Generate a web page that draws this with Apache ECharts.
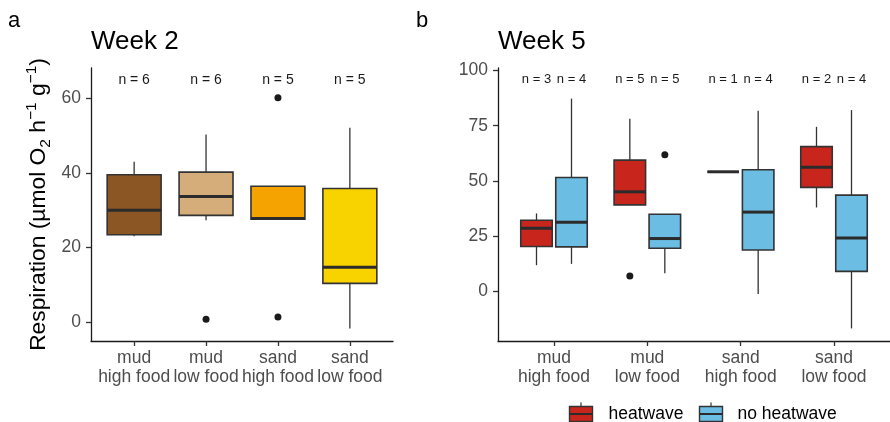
<!DOCTYPE html>
<html>
<head>
<meta charset="utf-8">
<script src="https://cdn.jsdelivr.net/npm/echarts@6/dist/echarts.min.js"></script>
<style>
  html, body { margin: 0; padding: 0; background: #ffffff; }
  #chart { width: 890px; height: 422px; }
</style>
</head>
<body>
<div id="chart"></div>
<script>
// Treatment groups on the x axis
const categories = ['mud\nhigh food', 'mud\nlow food', 'sand\nhigh food', 'sand\nlow food'];

// Box summaries: [lower whisker, Q1, median, Q3, upper whisker]
const week2Boxes = [
  [23.0, 23.4, 30.0, 39.5, 43.0],
  [27.3, 28.6, 33.7, 40.2, 50.3],
  [27.6, 27.6, 27.8, 36.4, 36.4],
  [-1.7, 10.4, 14.7, 35.8, 52.1]
];
// Outliers: [group number, value]
const week2Outliers = [[2, 0.8], [3, 60.1], [3, 1.4]];
const week2N = [6, 6, 5, 5];
const week2Fill = ['#8C5524', '#D4AD7B', '#F5A300', '#F9D300'];

const week5Heatwave = [
  [11.7, 20.2, 28.5, 32.1, 35.2],
  [39.1, 39.1, 45.0, 59.4, 78.2],
  [54.1, 54.1, 54.1, 54.1, 54.1],
  [37.9, 47.0, 56.2, 65.5, 74.5]
];
const week5NoHeatwave = [
  [12.3, 20.0, 31.2, 51.5, 87.3],
  [8.0, 19.4, 23.8, 34.8, 34.8],
  [-1.4, 18.6, 35.8, 55.0, 81.8],
  [-17.0, 8.9, 24.1, 43.5, 82.1]
];
const week5HeatwaveOutliers = [[2, 6.8]];
const week5NoHeatwaveOutliers = [[2, 61.8]];
const week5HeatwaveN = [3, 5, 1, 2];
const week5NoHeatwaveN = [4, 5, 4, 4];

const week2Ticks = [0, 20, 40, 60];
const week5Ticks = [0, 25, 50, 75, 100];
const groupTicks = [1, 2, 3, 4];

// Height at which the sample sizes are printed
const week2NLabelY = 64.8;
const week5NLabelY = 95.9;

const heatColor = '#C8261C';
const noHeatColor = '#6BBDE3';
const FONT = '"Liberation Sans", Arial, Helvetica, sans-serif';
const STROKE = '#333333';

// Box geometry in axis units
const SINGLE_WIDTH = 0.75;
const DODGE = 0.1875;
const DODGE_WIDTH = 0.3375;

function boxRows(boxes, shift, width) {
  return boxes.map((b, i) => [i + 1 + shift, b[0], b[1], b[2], b[3], b[4], width]);
}
function outlierRows(points, shift) {
  return points.map(p => [p[0] + shift, p[1]]);
}
function nRows(ns, shift, y) {
  return ns.map((n, i) => [i + 1 + shift, y, n]);
}

function boxRenderer(fillFor) {
  return function (params, api) {
    const x = api.value(0);
    const w = api.value(6);
    const lo = api.coord([x, api.value(1)]);
    const q1 = api.coord([x - w / 2, api.value(2)]);
    const med = api.value(3);
    const q3 = api.coord([x + w / 2, api.value(4)]);
    const hi = api.coord([x, api.value(5)]);
    const mL = api.coord([x - w / 2, med]);
    const mR = api.coord([x + w / 2, med]);
    return {
      type: 'group',
      children: [
        { type: 'line', shape: { x1: lo[0], y1: lo[1], x2: lo[0], y2: q1[1] }, style: { stroke: STROKE, lineWidth: 1.3 } },
        { type: 'line', shape: { x1: hi[0], y1: hi[1], x2: hi[0], y2: q3[1] }, style: { stroke: STROKE, lineWidth: 1.3 } },
        { type: 'rect', shape: { x: q1[0], y: q3[1], width: q3[0] - q1[0], height: q1[1] - q3[1] },
          style: { fill: fillFor(params.dataIndex), stroke: STROKE, lineWidth: 1.6 } },
        { type: 'line', shape: { x1: mL[0], y1: mL[1], x2: mR[0], y2: mR[1] }, style: { stroke: '#2b2b2b', lineWidth: 3 } }
      ]
    };
  };
}

function nRenderer(fontSize) {
  return function (params, api) {
    const p = api.coord([api.value(0), api.value(1)]);
    return {
      type: 'text', x: p[0], y: p[1],
      style: { text: 'n = ' + api.value(2), fontSize: fontSize, fontFamily: FONT, fill: '#1a1a1a', align: 'center', verticalAlign: 'middle' }
    };
  };
}

function xAxisFor(grid) {
  return {
    type: 'value', gridIndex: grid, min: 0.4, max: 4.6,
    axisLine: { show: true, onZero: false, lineStyle: { color: '#1a1a1a', width: 1.3 } },
    axisTick: { show: true, customValues: groupTicks, length: 5, lineStyle: { color: '#333333', width: 1.3 } },
    axisLabel: {
      customValues: groupTicks, formatter: v => categories[Math.round(v) - 1],
      color: '#4D4D4D', fontSize: 17.5, lineHeight: 18.5, fontFamily: FONT, margin: 8
    },
    splitLine: { show: false }
  };
}

function yAxisFor(grid, min, max, ticks, extra) {
  return Object.assign({
    type: 'value', gridIndex: grid, min: min, max: max,
    axisLine: { show: true, onZero: false, lineStyle: { color: '#1a1a1a', width: 1.3 } },
    axisTick: { show: true, customValues: ticks, length: 5, lineStyle: { color: '#333333', width: 1.3 } },
    axisLabel: { customValues: ticks, color: '#4D4D4D', fontSize: 17.5, fontFamily: FONT, margin: 10 },
    splitLine: { show: false }
  }, extra || {});
}

const chart = echarts.init(document.getElementById('chart'), null, { renderer: 'canvas' });

chart.setOption({
  animation: false,
  backgroundColor: '#ffffff',
  title: [
    { text: 'a', left: 8, top: 10, padding: 0, textStyle: { fontSize: 22, fontWeight: 'normal', color: '#000', fontFamily: FONT } },
    { text: 'b', left: 416, top: 10, padding: 0, textStyle: { fontSize: 22, fontWeight: 'normal', color: '#000', fontFamily: FONT } },
    { text: 'Week 2', left: 91, top: 29, padding: 0, textStyle: { fontSize: 26, fontWeight: 'normal', color: '#000', fontFamily: FONT } },
    { text: 'Week 5', left: 498, top: 29, padding: 0, textStyle: { fontSize: 26, fontWeight: 'normal', color: '#000', fontFamily: FONT } }
  ],
  grid: [
    { left: 91, top: 68, width: 302, height: 273 },
    { left: 498, top: 68, width: 392, height: 273 }
  ],
  xAxis: [xAxisFor(0), xAxisFor(1)],
  yAxis: [
    yAxisFor(0, -5.05, 68.1, week2Ticks, {
      name: '{a|Respiration (µmol O}{s|2}{a| h}{p|−1}{a| g}{p|−1}{a|)}',
      nameLocation: 'middle', nameGap: 37,
      nameTextStyle: {
        rich: {
          a: { fontSize: 22.8, lineHeight: 30, fontFamily: FONT, color: '#000' },
          s: { fontSize: 15.5, lineHeight: 16, verticalAlign: 'bottom', fontFamily: FONT, color: '#000' },
          p: { fontSize: 15.5, lineHeight: 16, verticalAlign: 'top', fontFamily: FONT, color: '#000' }
        }
      }
    }),
    yAxisFor(1, -22.7, 101.2, week5Ticks)
  ],
  series: [
    {
      type: 'custom', name: 'week 2', xAxisIndex: 0, yAxisIndex: 0,
      data: boxRows(week2Boxes, 0, SINGLE_WIDTH),
      renderItem: boxRenderer(i => week2Fill[i])
    },
    {
      type: 'scatter', xAxisIndex: 0, yAxisIndex: 0, symbolSize: 7,
      itemStyle: { color: '#1a1a1a', opacity: 1 }, data: outlierRows(week2Outliers, 0)
    },
    {
      type: 'custom', xAxisIndex: 0, yAxisIndex: 0,
      data: nRows(week2N, 0, week2NLabelY), renderItem: nRenderer(14)
    },
    {
      type: 'custom', name: 'heatwave', xAxisIndex: 1, yAxisIndex: 1,
      data: boxRows(week5Heatwave, -DODGE, DODGE_WIDTH),
      renderItem: boxRenderer(() => heatColor)
    },
    {
      type: 'custom', name: 'no heatwave', xAxisIndex: 1, yAxisIndex: 1,
      data: boxRows(week5NoHeatwave, DODGE, DODGE_WIDTH),
      renderItem: boxRenderer(() => noHeatColor)
    },
    {
      type: 'scatter', xAxisIndex: 1, yAxisIndex: 1, symbolSize: 7,
      itemStyle: { color: '#1a1a1a', opacity: 1 },
      data: outlierRows(week5HeatwaveOutliers, -DODGE).concat(outlierRows(week5NoHeatwaveOutliers, DODGE))
    },
    {
      type: 'custom', xAxisIndex: 1, yAxisIndex: 1,
      data: nRows(week5HeatwaveN, -DODGE, week5NLabelY).concat(nRows(week5NoHeatwaveN, DODGE, week5NLabelY)),
      renderItem: nRenderer(13)
    }
  ],
  graphic: [
    // legend keys for the Week 5 treatment
    {
      type: 'group', left: 567, top: 400,
      children: [
        { type: 'line', shape: { x1: 11.5, y1: 0, x2: 11.5, y2: 22 }, style: { stroke: STROKE, lineWidth: 1.2 } },
        { type: 'rect', shape: { x: 0, y: 4, width: 23, height: 15 }, style: { fill: heatColor, stroke: STROKE, lineWidth: 1.4 } },
        { type: 'line', shape: { x1: 0, y1: 11.5, x2: 23, y2: 11.5 }, style: { stroke: '#2b2b2b', lineWidth: 2 } },
        { type: 'text', x: 39, y: 11.5, style: { text: 'heatwave', fontSize: 17.5, fontFamily: FONT, fill: '#000', verticalAlign: 'middle' } },
        { type: 'line', shape: { x1: 141.5, y1: 0, x2: 141.5, y2: 22 }, style: { stroke: STROKE, lineWidth: 1.2 } },
        { type: 'rect', shape: { x: 130, y: 4, width: 23, height: 15 }, style: { fill: noHeatColor, stroke: STROKE, lineWidth: 1.4 } },
        { type: 'line', shape: { x1: 130, y1: 11.5, x2: 153, y2: 11.5 }, style: { stroke: '#2b2b2b', lineWidth: 2 } },
        { type: 'text', x: 168, y: 11.5, style: { text: 'no heatwave', fontSize: 17.5, fontFamily: FONT, fill: '#000', verticalAlign: 'middle' } }
      ]
    }
  ]
});
</script>
</body>
</html>
